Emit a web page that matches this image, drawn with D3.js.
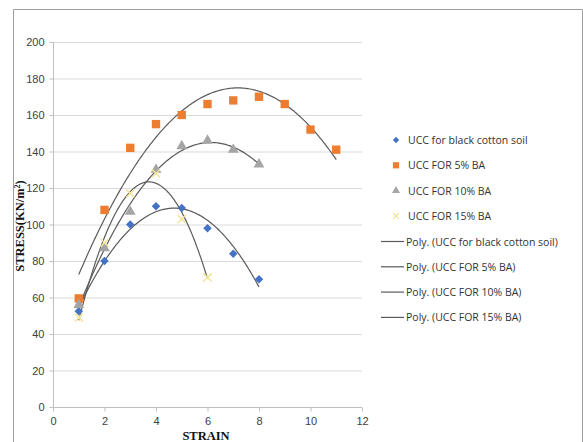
<!DOCTYPE html>
<head>
  <meta charset="utf-8">
  <script src="https://cdn.jsdelivr.net/npm/d3@7"></script>
  <style>
    body { margin: 0; background: #fff; }
    .grid line { stroke: #d9d9d9; }
    .axis path, .axis line { stroke: #bfbfbf; }
    .axis text { font-family: 'Liberation Sans', sans-serif; font-size: 11px; fill: #404040; }
    .title { font-family: 'Liberation Serif', serif; font-weight: bold; font-size: 12.5px; fill: #111; }
    .legend text { font-family: 'Open Sans', sans-serif; font-size: 10.5px; fill: #333; }
    .trend { fill: none; stroke: #5a5a5a; stroke-width: 1.2px; }
  </style>
</head>
<body>
<svg id="chart" width="583" height="442"></svg>
<script>
  // series values (strain 1..n)
  const blackSoil = [52.5, 80, 100, 110, 109, 98, 84, 70];
  const ba5 = [59.5, 108, 142, 155, 160, 166, 168, 170, 166, 152, 141];
  const ba10 = [56, 87, 107, 130, 143, 146, 141, 133];
  const ba15 = [49, 90, 117, 128, 103, 71];
  const seriesNames = ["UCC for black cotton soil", "UCC FOR 5% BA", "UCC FOR 10% BA", "UCC FOR 15% BA"];
  const xTicks = [0, 2, 4, 6, 8, 10, 12];
  const yTicks = [0, 20, 40, 60, 80, 100, 120, 140, 160, 180, 200];

  const svg = d3.select("#chart");
  const pLeft = 53, pRight = 362, pTop = 42, pBottom = 407;

  // outer frame
  svg.append("path").attr("d", "M13.5,442 V9.5 H582.5 V442")
    .attr("fill", "none").attr("stroke", "#a0a0a0").attr("stroke-width", 1);

  const x = d3.scaleLinear().domain([0, 12]).range([pLeft, pRight]);
  const y = d3.scaleLinear().domain([0, 200]).range([pBottom, pTop]);

  svg.append("g").attr("class", "grid")
    .selectAll("line").data(yTicks.slice(1)).join("line")
    .attr("x1", pLeft).attr("x2", pRight)
    .attr("y1", d => y(d) + 0.5).attr("y2", d => y(d) + 0.5);

  svg.append("g").attr("class", "axis")
    .attr("transform", `translate(0,${pBottom + 0.5})`)
    .call(d3.axisBottom(x).tickValues(xTicks).tickSize(4).tickPadding(6))
    .call(g => g.select(".domain").attr("d", `M${pLeft},0H${pRight}`));

  svg.append("g").attr("class", "axis")
    .attr("transform", `translate(${pLeft + 0.5},0)`)
    .call(d3.axisLeft(y).tickValues(yTicks).tickSize(4).tickPadding(5))
    .call(g => g.select(".domain").attr("d", `M0,${pTop}V${pBottom}`));

  svg.append("text").attr("class", "title")
    .attr("x", 206).attr("y", 440).attr("text-anchor", "middle").text("STRAIN");
  svg.append("text").attr("class", "title")
    .attr("transform", "translate(24,226) rotate(-90)").attr("text-anchor", "middle")
    .html('STRESS(KN/m<tspan dy="-4" font-size="8">2</tspan><tspan dy="4">)</tspan>');

  // quadratic least squares, like the Excel "Poly." trendline
  function polyFit(vals) {
    let s = [0, 0, 0, 0, 0], t = [0, 0, 0];
    vals.forEach((v, i) => {
      const xi = i + 1;
      for (let k = 0; k < 5; k++) s[k] += Math.pow(xi, k);
      for (let k = 0; k < 3; k++) t[k] += v * Math.pow(xi, k);
    });
    const m = [[s[0], s[1], s[2], t[0]], [s[1], s[2], s[3], t[1]], [s[2], s[3], s[4], t[2]]];
    for (let i = 0; i < 3; i++) {
      for (let j = i + 1; j < 3; j++) {
        const f = m[j][i] / m[i][i];
        for (let k = i; k < 4; k++) m[j][k] -= f * m[i][k];
      }
    }
    const c = [0, 0, 0];
    for (let i = 2; i >= 0; i--) {
      let sum = m[i][3];
      for (let k = i + 1; k < 3; k++) sum -= m[i][k] * c[k];
      c[i] = sum / m[i][i];
    }
    return xv => c[0] + c[1] * xv + c[2] * xv * xv;
  }

  const allSeries = [blackSoil, ba5, ba10, ba15];
  const colors = ["#4472c4", "#ed7d31", "#a5a5a5", "#f3e59a"];
  const shapes = [d3.symbolSquare, d3.symbolSquare, d3.symbolTriangle, d3.symbolX];
  const sizes = [36, 70, 50, 45];
  const rot = [45, 0, 0, 0];

  const line = d3.line().x(d => x(d[0])).y(d => y(d[1]));

  // trendlines
  allSeries.forEach(vals => {
    const f = polyFit(vals);
    const pts = d3.range(1, vals.length + 0.001, 0.05).map(v => [v, f(v)]);
    svg.append("path").attr("class", "trend").attr("d", line(pts));
  });

  // markers
  allSeries.forEach((vals, si) => {
    svg.append("g").selectAll("path").data(vals).join("path")
      .attr("transform", (d, i) => `translate(${x(i + 1)},${y(d)}) rotate(${rot[si]})`)
      .attr("d", d3.symbol(shapes[si], sizes[si]))
      .attr("fill", si === 3 ? "none" : colors[si])
      .attr("stroke", si === 3 ? colors[si] : "none")
      .attr("stroke-width", 1.5);
  });

  // legend
  const lg = svg.append("g").attr("class", "legend");
  seriesNames.forEach((name, i) => {
    const yy = 140 + i * 25.3;
    lg.append("path").attr("transform", `translate(396,${yy}) rotate(${rot[i]})`)
      .attr("d", d3.symbol(shapes[i], sizes[i] * 0.55))
      .attr("fill", i === 3 ? "none" : colors[i])
      .attr("stroke", i === 3 ? colors[i] : "none").attr("stroke-width", 1.3);
    lg.append("text").attr("x", 408).attr("y", yy + 4).text(name);
  });
  seriesNames.forEach((name, i) => {
    const yy = 241.5 + i * 25.3;
    lg.append("line").attr("x1", 381).attr("x2", 404).attr("y1", yy).attr("y2", yy)
      .attr("stroke", "#5a5a5a").attr("stroke-width", 1.2);
    lg.append("text").attr("x", 406).attr("y", yy + 4).text(`Poly. (${name})`);
  });
</script>
</body>
